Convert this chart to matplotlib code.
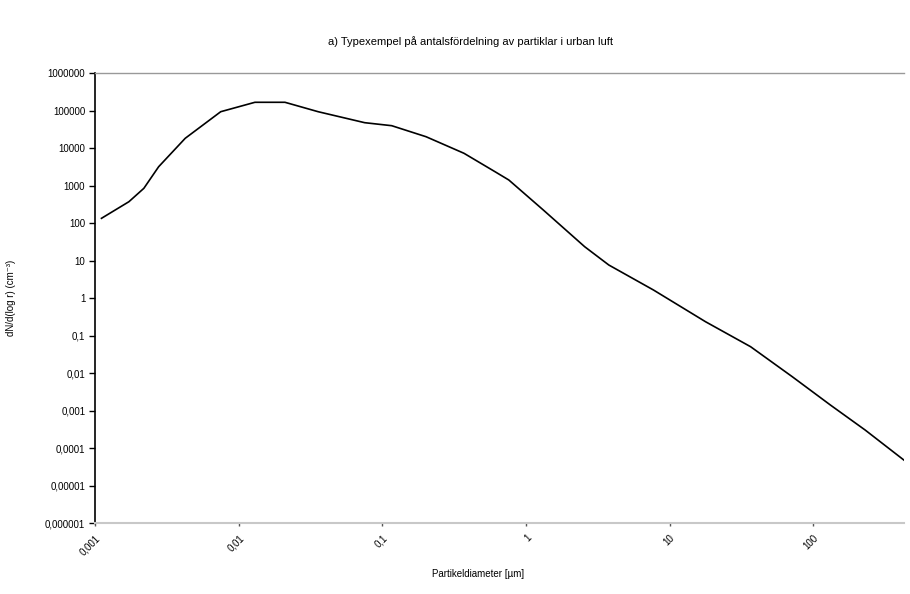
import numpy as np
import matplotlib
matplotlib.use("Agg")
import matplotlib.pyplot as plt
from matplotlib.ticker import FixedLocator, NullLocator

# particle number size distribution (log10 values)
log_diam = [-2.955, -2.764, -2.660, -2.557, -2.372, -2.125, -1.887, -1.678,
            -1.447, -1.123, -0.935, -0.696, -0.432, -0.216, -0.120, 0.120,
            0.408, 0.576, 0.887, 1.249, 1.563, 1.853, 2.118, 2.360, 2.674]
log_dn = [2.125, 2.568, 2.925, 3.501, 4.259, 4.968, 5.219, 5.219,
          4.968, 4.675, 4.595, 4.301, 3.859, 3.368, 3.147, 2.347,
          1.368, 0.880, 0.213, -0.632, -1.299, -2.099, -2.853, -3.520, -4.453]

x_ticks = [0.001, 0.01, 0.1, 1, 10, 100]
x_ticklabels = ["0,001", "0,01", "0,1", "1", "10", "100"]
y_ticks = [1e6, 1e5, 1e4, 1e3, 1e2, 1e1, 1, 1e-1, 1e-2, 1e-3, 1e-4, 1e-5, 1e-6]
y_ticklabels = ["1000000", "100000", "10000", "1000", "100", "10", "1",
                "0,1", "0,01", "0,001", "0,0001", "0,00001", "0,000001"]

title = "a) Typexempel på antalsfördelning av partiklar i urban luft"
xlabel = "Partikeldiameter [µm]"
ylabel = "dN/d(log r) (cm⁻³)"

fonts = ["Liberation Sans", "DejaVu Sans"]
plt.rcParams['font.family'] = fonts

diam = 10 ** np.array(log_diam)
dn = 10 ** np.array(log_dn)

fig = plt.figure(figsize=(9.1, 5.94), dpi=100)
ax = fig.add_axes([0.1044, 0.1195, 0.889, 0.7576])

ax.plot(diam, dn, color='black', lw=1.2)

ax.set_xscale('log')
ax.set_yscale('log')
ax.set_xlim(0.001, 427)
ax.set_ylim(1e-6, 1e6)

ax.xaxis.set_major_locator(FixedLocator(x_ticks))
ax.xaxis.set_minor_locator(NullLocator())
ax.set_xticklabels(x_ticklabels, rotation=45, ha='right', rotation_mode='anchor',
                   fontsize=7)
ax.yaxis.set_major_locator(FixedLocator(y_ticks))
ax.yaxis.set_minor_locator(NullLocator())
ax.set_yticklabels(y_ticklabels, fontsize=7)

ax.tick_params(axis='y', length=4, width=1, color='black', pad=3)
ax.tick_params(axis='x', length=2, width=1, color='#555555', pad=5)

ax.spines['left'].set_color('black')
ax.spines['left'].set_linewidth(1.2)
ax.spines['bottom'].set_color('#c8c8c8')
ax.spines['bottom'].set_linewidth(1.5)
ax.spines['top'].set_color('#999999')
ax.spines['top'].set_linestyle((0, (1, 1)))
ax.spines['top'].set_linewidth(1.0)
ax.spines['right'].set_visible(False)

ax.set_xlabel(xlabel, fontsize=7, va='center')
ax.xaxis.set_label_coords(0.473, -0.113)
ax.set_ylabel(ylabel, fontsize=7)
ax.yaxis.set_label_coords(-0.098, 0.5)

fig.text(0.517, 0.93, title, ha='center', va='center', fontsize=8)

fig.savefig('out.png', dpi=100)
